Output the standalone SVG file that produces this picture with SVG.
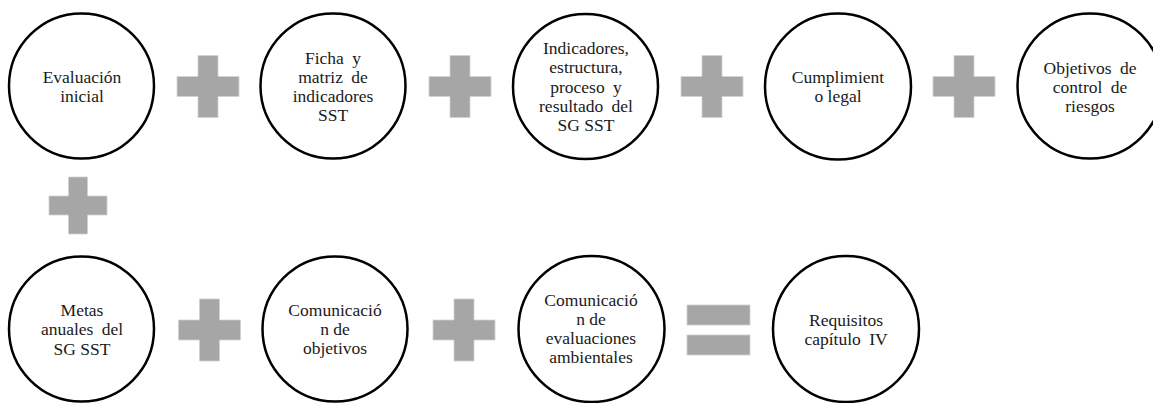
<svg xmlns="http://www.w3.org/2000/svg" xmlns:xlink="http://www.w3.org/1999/xlink" width="1153" height="403" viewBox="0 0 1153 403">
<style>
.node circle{fill:#fff;stroke:#000;stroke-width:2.5}
.node text{font-size:17.5px;fill:#1a1a1a;text-anchor:middle}
.op{fill:#a6a6a6;stroke:#d0d0d0;stroke-width:0.8}
.js{word-spacing:4px}
</style>
<defs>
<path id="plus" d="M-10,-31 H10 V-10 H31 V10 H10 V31 H-10 V10 H-31 V-10 H-10 Z"/>
</defs>
<rect width="1153" height="403" fill="#fff"/>
<g id="connectors">
<use xlink:href="#plus" class="op" x="208" y="86.5"/>
<use xlink:href="#plus" class="op" x="460" y="86.5"/>
<use xlink:href="#plus" class="op" x="712" y="86.5"/>
<use xlink:href="#plus" class="op" x="964" y="86.5"/>
<path class="op" d="M68.5,177 H87.5 V196 H107 V215 H87.5 V234 H68.5 V215 H49 V196 H68.5 Z"/>
<use xlink:href="#plus" class="op" x="209.5" y="330"/>
<use xlink:href="#plus" class="op" x="464" y="330"/>
<rect class="op" x="687" y="305" width="63" height="20"/>
<rect class="op" x="687" y="335" width="63" height="20"/>
</g>
<g font-family="Liberation Serif, DejaVu Serif, serif">
<g id="n1" class="node">
<circle cx="81.5" cy="86" r="72.5"/>
<text x="82" y="83">Evaluación</text>
<text x="82" y="102">inicial</text>
</g>
<g id="n2" class="node">
<circle cx="333" cy="86" r="72.5"/>
<text x="333" y="64" class="js">Ficha y</text>
<text x="333" y="83" class="js">matriz de</text>
<text x="333" y="102">indicadores</text>
<text x="333" y="121">SST</text>
</g>
<g id="n3" class="node">
<circle cx="585.5" cy="86.5" r="72.5"/>
<text x="586" y="54">Indicadores,</text>
<text x="586" y="73">estructura,</text>
<text x="586" y="92.5" class="js">proceso y</text>
<text x="586" y="112" class="js">resultado del</text>
<text x="586" y="131">SG SST</text>
</g>
<g id="n4" class="node">
<circle cx="838" cy="86.5" r="73"/>
<text x="838" y="83">Cumplimient</text>
<text x="838" y="102">o legal</text>
</g>
<g id="n5" class="node">
<circle cx="1090" cy="86" r="72.5"/>
<text x="1090" y="74" class="js">Objetivos de</text>
<text x="1090" y="93" class="js">control de</text>
<text x="1090" y="112">riesgos</text>
</g>
<g id="n6" class="node">
<circle cx="81.5" cy="329" r="72.5"/>
<text x="82" y="316">Metas</text>
<text x="82" y="335" class="js">anuales del</text>
<text x="82" y="354.5">SG SST</text>
</g>
<g id="n7" class="node">
<circle cx="335" cy="329" r="72.5"/>
<text x="335" y="316">Comunicació</text>
<text x="335" y="335">n de</text>
<text x="335" y="354">objetivos</text>
</g>
<g id="n8" class="node">
<circle cx="591.5" cy="329" r="73"/>
<text x="591" y="306">Comunicació</text>
<text x="591" y="325">n de</text>
<text x="591" y="344">evaluaciones</text>
<text x="591" y="363">ambientales</text>
</g>
<g id="n9" class="node">
<circle cx="846" cy="329" r="73"/>
<text x="846" y="326">Requisitos</text>
<text x="846" y="345" class="js">capítulo IV</text>
</g>
</g>
</svg>
